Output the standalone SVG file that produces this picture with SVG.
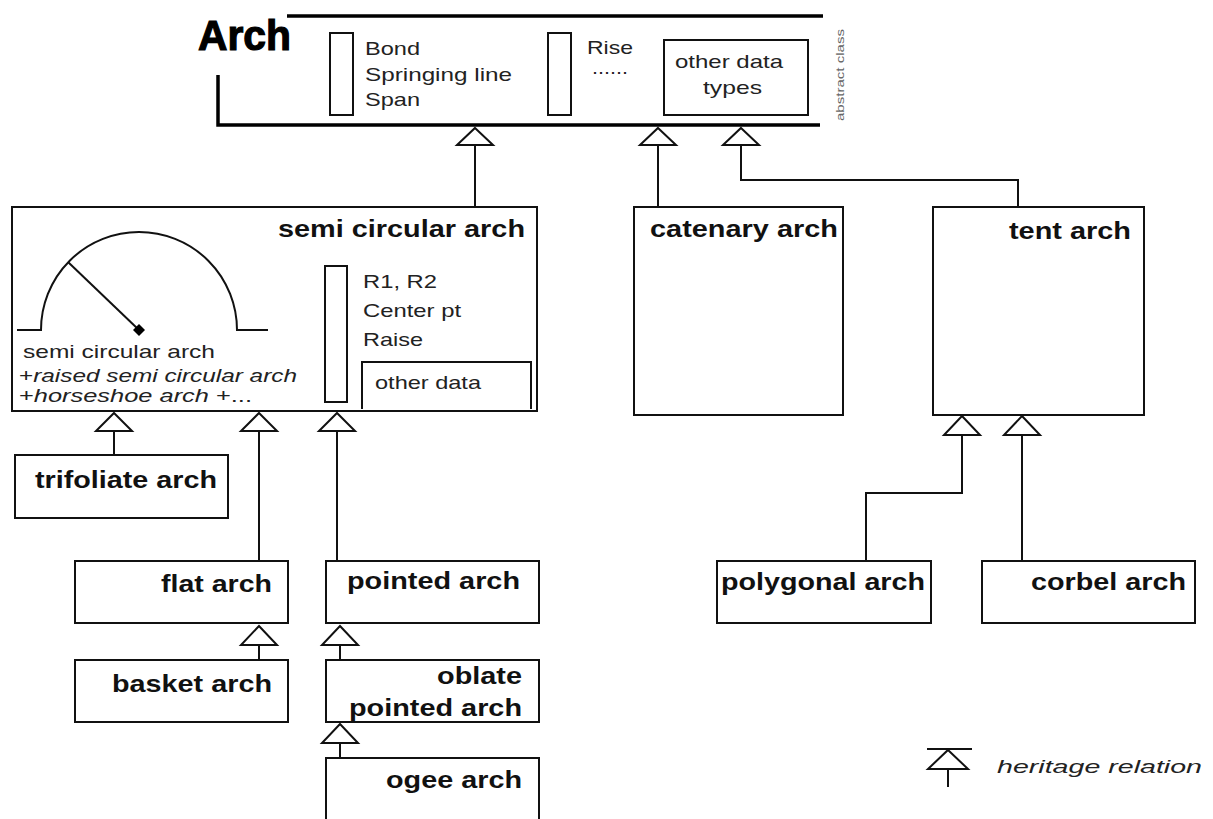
<svg xmlns="http://www.w3.org/2000/svg" width="1213" height="819" viewBox="0 0 1213 819">
<defs>
<style>
.box{fill:none;stroke:#111;stroke-width:2}
.bar{fill:none;stroke:#000;stroke-width:3.5}
.ln{fill:none;stroke:#111;stroke-width:2}
.tri{fill:#fff;stroke:#111;stroke-width:2;stroke-linejoin:miter}
.t{font-family:"Liberation Sans",Arial,sans-serif;fill:#222;font-size:18.6px}
.b{font-family:"Liberation Sans",Arial,sans-serif;font-weight:bold;font-size:24px;fill:#111}
.i{font-style:italic}
.n{font-style:normal}
</style>
</defs>
<rect width="1213" height="819" fill="#fff"/>

<g id="arch">
<path class="bar" d="M287 16 H823 M218 75 V125 H820"/>
<text x="198" y="50" font-family="'Liberation Sans',Arial,sans-serif" font-size="42" font-weight="bold" stroke="#000" stroke-width="1.2" fill="#000" textLength="93" lengthAdjust="spacingAndGlyphs">Arch</text>
<rect class="box" x="330" y="33" width="23" height="82"/>
<text class="t" x="365" y="55" textLength="55" lengthAdjust="spacingAndGlyphs">Bond</text>
<text class="t" x="365" y="81" textLength="147" lengthAdjust="spacingAndGlyphs">Springing line</text>
<text class="t" x="365" y="106" textLength="55" lengthAdjust="spacingAndGlyphs">Span</text>
<rect class="box" x="548" y="33" width="23" height="82"/>
<text class="t" x="587" y="54" textLength="46" lengthAdjust="spacingAndGlyphs">Rise</text>
<text class="t" x="592" y="74" font-size="14" textLength="36" lengthAdjust="spacingAndGlyphs">......</text>
<rect class="box" x="664" y="40" width="144" height="75"/>
<text class="t" x="675" y="68" textLength="108" lengthAdjust="spacingAndGlyphs">other data</text>
<text class="t" x="703" y="94" textLength="59" lengthAdjust="spacingAndGlyphs">types</text>
<text x="0" y="0" font-family="'Liberation Sans',Arial,sans-serif" font-size="10" fill="#666" transform="translate(844,121) rotate(-90)" textLength="92" lengthAdjust="spacingAndGlyphs">abstract class</text>
</g>

<g id="semi-circular-arch">
<rect class="box" x="12" y="207" width="525" height="204"/>
<text class="b" x="278" y="237" textLength="247" lengthAdjust="spacingAndGlyphs">semi circular arch</text>
<path class="ln" d="M17 330 H41 A98 98 0 0 1 237 330 H268" stroke-width="1.8"/>
<line class="ln" x1="139" y1="330" x2="68" y2="262" stroke-width="1.8"/>
<path d="M139 324 L145 330 L139 336 L133 330 Z" fill="#000"/>
<text class="t" x="23" y="358" textLength="192" lengthAdjust="spacingAndGlyphs">semi circular arch</text>
<text class="t i" x="19" y="382" textLength="278" lengthAdjust="spacingAndGlyphs"><tspan class="n">+</tspan>raised semi circular arch</text>
<text class="t i" x="19" y="402" textLength="233" lengthAdjust="spacingAndGlyphs"><tspan class="n">+</tspan>horseshoe arch  <tspan class="n">+...</tspan></text>
<rect class="box" x="325" y="266" width="22" height="136"/>
<text class="t" x="363" y="288" textLength="74" lengthAdjust="spacingAndGlyphs">R1, R2</text>
<text class="t" x="363" y="317" textLength="98" lengthAdjust="spacingAndGlyphs">Center pt</text>
<text class="t" x="363" y="346" textLength="60" lengthAdjust="spacingAndGlyphs">Raise</text>
<path class="ln" d="M362 409 V362 H531 V409"/>
<text class="t" x="375" y="389" textLength="106" lengthAdjust="spacingAndGlyphs">other data</text>
</g>

<g id="catenary-arch">
<rect class="box" x="634" y="207" width="209" height="208"/>
<text class="b" x="650" y="237" textLength="188" lengthAdjust="spacingAndGlyphs">catenary arch</text>
</g>

<g id="tent-arch">
<rect class="box" x="933" y="207" width="211" height="208"/>
<text class="b" x="1131" y="239" text-anchor="end" textLength="122" lengthAdjust="spacingAndGlyphs">tent arch</text>
</g>

<g id="trifoliate-arch">
<rect class="box" x="15" y="455" width="213" height="63"/>
<text class="b" x="35" y="488" textLength="182" lengthAdjust="spacingAndGlyphs">trifoliate arch</text>
</g>

<g id="flat-arch">
<rect class="box" x="75" y="561" width="213" height="62"/>
<text class="b" x="272" y="592" text-anchor="end" textLength="111" lengthAdjust="spacingAndGlyphs">flat arch</text>
</g>

<g id="pointed-arch">
<rect class="box" x="326" y="561" width="213" height="62"/>
<text class="b" x="520" y="589" text-anchor="end" textLength="173" lengthAdjust="spacingAndGlyphs">pointed arch</text>
</g>

<g id="basket-arch">
<rect class="box" x="75" y="660" width="213" height="62"/>
<text class="b" x="272" y="692" text-anchor="end" textLength="160" lengthAdjust="spacingAndGlyphs">basket arch</text>
</g>

<g id="oblate-pointed-arch">
<rect class="box" x="326" y="660" width="213" height="62"/>
<text class="b" x="522" y="684" text-anchor="end" textLength="85" lengthAdjust="spacingAndGlyphs">oblate</text>
<text class="b" x="522" y="716" text-anchor="end" textLength="173" lengthAdjust="spacingAndGlyphs">pointed arch</text>
</g>

<g id="ogee-arch">
<rect class="box" x="326" y="758" width="213" height="70"/>
<text class="b" x="522" y="788" text-anchor="end" textLength="136" lengthAdjust="spacingAndGlyphs">ogee arch</text>
</g>

<g id="polygonal-arch">
<rect class="box" x="717" y="561" width="214" height="62"/>
<text class="b" x="721" y="590" textLength="204" lengthAdjust="spacingAndGlyphs">polygonal arch</text>
</g>

<g id="corbel-arch">
<rect class="box" x="982" y="561" width="213" height="62"/>
<text class="b" x="1186" y="590" text-anchor="end" textLength="155" lengthAdjust="spacingAndGlyphs">corbel arch</text>
</g>

<g id="connectors">
<path class="ln" d="M475 145 V207"/>
<path class="ln" d="M658 145 V207"/>
<path class="ln" d="M741 145 V180 H1018 V207"/>
<path class="ln" d="M114 431 V455"/>
<path class="ln" d="M259 431 V561"/>
<path class="ln" d="M337 431 V561"/>
<path class="ln" d="M259 645 V660"/>
<path class="ln" d="M340 645 V660"/>
<path class="ln" d="M340 743 V758"/>
<path class="ln" d="M962 435 V493 H866 V561"/>
<path class="ln" d="M1022 435 V561"/>
<polygon class="tri" points="475,128 493,145 457,145"/>
<polygon class="tri" points="658,128 676,145 640,145"/>
<polygon class="tri" points="741,128 759,145 723,145"/>
<polygon class="tri" points="114,413 132,431 96,431"/>
<polygon class="tri" points="259,413 277,431 241,431"/>
<polygon class="tri" points="337,413 355,431 319,431"/>
<polygon class="tri" points="259,626 277,645 241,645"/>
<polygon class="tri" points="340,626 358,645 322,645"/>
<polygon class="tri" points="340,724 358,743 322,743"/>
<polygon class="tri" points="962,416 980,435 944,435"/>
<polygon class="tri" points="1022,416 1040,435 1004,435"/>
</g>

<g id="legend">
<path class="ln" d="M927 749 H972"/>
<polygon class="tri" points="948,750 968,769 928,769"/>
<path class="ln" d="M948 769 V787"/>
<text class="t i" x="997" y="773" font-size="22" textLength="205" lengthAdjust="spacingAndGlyphs">heritage relation</text>
</g>
</svg>
